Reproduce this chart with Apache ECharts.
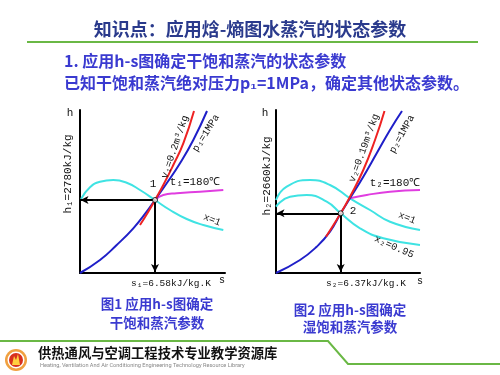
<!DOCTYPE html>
<html>
<head>
<meta charset="utf-8">
<script src="https://cdn.jsdelivr.net/npm/echarts@6/dist/echarts.min.js"></script>
<style>
  html, body { margin: 0; padding: 0; background: #fff; }
  #main { width: 500px; height: 375px; }
</style>
</head>
<body>
<div id="main"></div>
<script>
// 图1 干饱和蒸汽 (坐标单位: 轴内 0..145 / 0..163)
const p1Line = [[0, 0], [20, 13], [36.7, 28], [53.3, 44.7], [66.7, 61.3], [75, 73], [86.7, 89.7], [100, 109.7], [113.3, 133], [127, 162]];
const v1Line = [[60, 48], [68.3, 61.3], [75, 73], [83.3, 88], [93.3, 108], [103.3, 129.7], [114, 162]];
const x1Line = [[1, 74], [10, 85.7], [20, 91.3], [33.3, 93], [46.7, 90.3], [60, 83], [75, 73], [90, 63], [106.7, 54], [123.3, 48], [143.3, 43]];
const t1Line = [[75, 73], [83.3, 78], [96.7, 79.7], [120, 81.3], [143.3, 83]];
const point1 = [75, 73];

// 图2 湿饱和蒸汽
const p2Line = [[0, 0], [24, 13], [40.7, 26.3], [54, 41.3], [64.7, 59.7], [74, 74.7], [87.3, 96.3], [100.7, 119.7], [114, 143], [126, 162]];
const v2Line = [[50, 36.3], [64.7, 59.7], [74, 76.3], [87.3, 103], [99, 133], [108.5, 162]];
const x2LineSat = [[0, 73], [10.7, 86.3], [34, 93], [54, 88], [74, 74.7], [94, 63], [114, 51.3], [144, 43]];
const x2LineWet = [[0, 66.3], [14, 76.3], [30.7, 78], [50.7, 71.3], [64.7, 59.7], [84, 44.7], [107.3, 34.7], [144, 28]];
const t2Line = [[74, 74.7], [90.7, 78], [114, 81.3], [144, 83]];
const point2 = [64.7, 59.7];

const titleText = '知识点：应用焓-熵图水蒸汽的状态参数';
const line1Text = '1. 应用h-s图确定干饱和蒸汽的状态参数';
const line2Text = '已知干饱和蒸汽绝对压力p₁=1MPa，确定其他状态参数。';

const blue = '#1f1fc8';
const red = '#ee2222';
const cyan = '#3fe3e3';
const magenta = '#e03de0';
const txtBlue = '#3a3ad0';
const labelFont = '"Liberation Mono", "DejaVu Sans Mono", monospace';
const cjkFont = '"Noto Sans CJK SC", sans-serif';

const chart = echarts.init(document.getElementById('main'));

function axisPair (idx, left, width) {
    return {
        grid: { left: left, top: 110, width: width, height: 163 },
        x: {
            type: 'value', gridIndex: idx, min: 0, max: width,
            axisLine: { lineStyle: { color: '#000', width: 2 } },
            axisTick: { show: false }, axisLabel: { show: false }, splitLine: { show: false }
        },
        y: {
            type: 'value', gridIndex: idx, min: 0, max: 163,
            axisLine: { lineStyle: { color: '#000', width: 2 } },
            axisTick: { show: false }, axisLabel: { show: false }, splitLine: { show: false }
        }
    };
}

const a1 = axisPair(0, 80, 145);
const a2 = axisPair(1, 276, 144);

function curve (idx, data, color, z) {
    return {
        type: 'line', xAxisIndex: idx, yAxisIndex: idx, data: data,
        smooth: true, showSymbol: false, silent: true, z: z || 2,
        lineStyle: { color: color, width: 2 }
    };
}

function arrows (idx, pt) {
    return {
        type: 'scatter', xAxisIndex: idx, yAxisIndex: idx, data: [pt],
        symbolSize: 5, z: 5, silent: true,
        itemStyle: { color: '#fff', borderColor: '#000', borderWidth: 1 },
        markLine: {
            silent: true, symbol: ['none', 'arrow'], symbolSize: [6, 8],
            label: { show: false },
            lineStyle: { color: '#000', width: 2, type: 'solid' },
            data: [
                [{ coord: pt }, { coord: [0.5, pt[1]] }],
                [{ coord: pt }, { coord: [pt[0], 1] }]
            ]
        }
    };
}

function txt (x, y, text, opts) {
    opts = opts || {};
    return {
        type: 'text', x: x, y: y, rotation: (opts.rot || 0) * Math.PI / 180, z: 10,
        style: {
            text: text, fill: opts.color || '#111',
            font: (opts.weight || 'normal') + ' ' + (opts.size || 10) + 'px ' + (opts.family || labelFont),
            textAlign: opts.align || 'center', textVerticalAlign: 'middle'
        }
    };
}

chart.setOption({
    animation: false,
    grid: [a1.grid, a2.grid],
    xAxis: [a1.x, a2.x],
    yAxis: [a1.y, a2.y],
    series: [
        curve(0, x1Line, cyan),
        curve(0, t1Line, magenta),
        curve(0, p1Line, blue, 3),
        curve(0, v1Line, red, 3),
        arrows(0, point1),
        curve(1, x2LineSat, cyan),
        curve(1, x2LineWet, cyan),
        curve(1, t2Line, magenta),
        curve(1, p2Line, blue, 3),
        curve(1, v2Line, red, 3),
        arrows(1, point2)
    ],
    graphic: [
        // 标题
        txt(250, 29, titleText, { size: 18, weight: 'bold', color: '#2a3a8c', family: cjkFont }),
        { type: 'line', shape: { x1: 27, y1: 42, x2: 478, y2: 42 }, style: { stroke: '#6ab845', lineWidth: 2 } },
        txt(64, 61, line1Text, { size: 16, weight: 'bold', color: txtBlue, align: 'left', family: cjkFont }),
        txt(64, 83, line2Text, { size: 16, weight: 'bold', color: txtBlue, align: 'left', family: cjkFont }),

        // 图1 标注
        txt(70, 113, 'h', { size: 11 }),
        txt(68, 174, 'h₁=2780kJ/kg', { size: 11, rot: 90 }),
        txt(153, 184, '1', { size: 11 }),
        txt(195, 182, 't₁=180℃', { size: 11 }),
        txt(175, 147, 'v₁=0.2m³/kg', { size: 10, rot: 71 }),
        txt(206, 133, 'p₁=1MPa', { size: 10, rot: 58 }),
        txt(212, 220, 'x=1', { size: 10, rot: -22 }),
        txt(171, 283, 's₁=6.58kJ/kg.K', { size: 9.5 }),
        txt(222, 280, 's', { size: 10 }),

        // 图2 标注
        txt(265, 113, 'h', { size: 11 }),
        txt(267, 176, 'h₂=2660kJ/kg', { size: 11, rot: 90 }),
        txt(353, 211, '2', { size: 11 }),
        txt(395, 183, 't₂=180℃', { size: 11 }),
        txt(364, 148, 'v₂=0.19m³/kg', { size: 10, rot: 70 }),
        txt(402, 134, 'p₂=1MPa', { size: 10, rot: 61 }),
        txt(407, 218, 'x=1', { size: 10, rot: -22 }),
        txt(394, 247, 'x₂=0.95', { size: 10, rot: -24 }),
        txt(366, 283, 's₂=6.37kJ/kg.K', { size: 9.5 }),
        txt(420, 281, 's', { size: 10 }),

        // 图题
        txt(157, 304, '图1 应用h-s图确定', { size: 13.5, weight: 'bold', color: txtBlue, family: cjkFont }),
        txt(157, 323, '干饱和蒸汽参数', { size: 13.5, weight: 'bold', color: txtBlue, family: cjkFont }),
        txt(350, 310, '图2 应用h-s图确定', { size: 13.5, weight: 'bold', color: txtBlue, family: cjkFont }),
        txt(350, 327, '湿饱和蒸汽参数', { size: 13.5, weight: 'bold', color: txtBlue, family: cjkFont }),

        // 页脚
        { type: 'polyline', shape: { points: [[0, 341], [328, 341], [348, 364], [500, 364]] }, style: { stroke: '#6ab845', lineWidth: 2, fill: null } },
        { type: 'circle', shape: { cx: 16, cy: 360, r: 11 }, style: { fill: '#f0a040' } },
        { type: 'circle', shape: { cx: 16, cy: 360, r: 8.5 }, style: { fill: '#fff' } },
        { type: 'circle', shape: { cx: 16, cy: 360, r: 7 }, style: { fill: '#d8301e' } },
        { type: 'polygon', shape: { points: [[12, 365], [14, 356], [16, 360], [18, 354], [20, 365]] }, style: { fill: '#ffd040' } },
        txt(38, 353, '供热通风与空调工程技术专业教学资源库', { size: 13.3, weight: 'bold', color: '#111', align: 'left', family: cjkFont }),
        txt(40, 366, 'Heating, Ventilation And Air Conditioning Engineering Technology Resource Library', { size: 5.6, color: '#888', align: 'left', family: 'Roboto, sans-serif' })
    ]
});
</script>
</body>
</html>
